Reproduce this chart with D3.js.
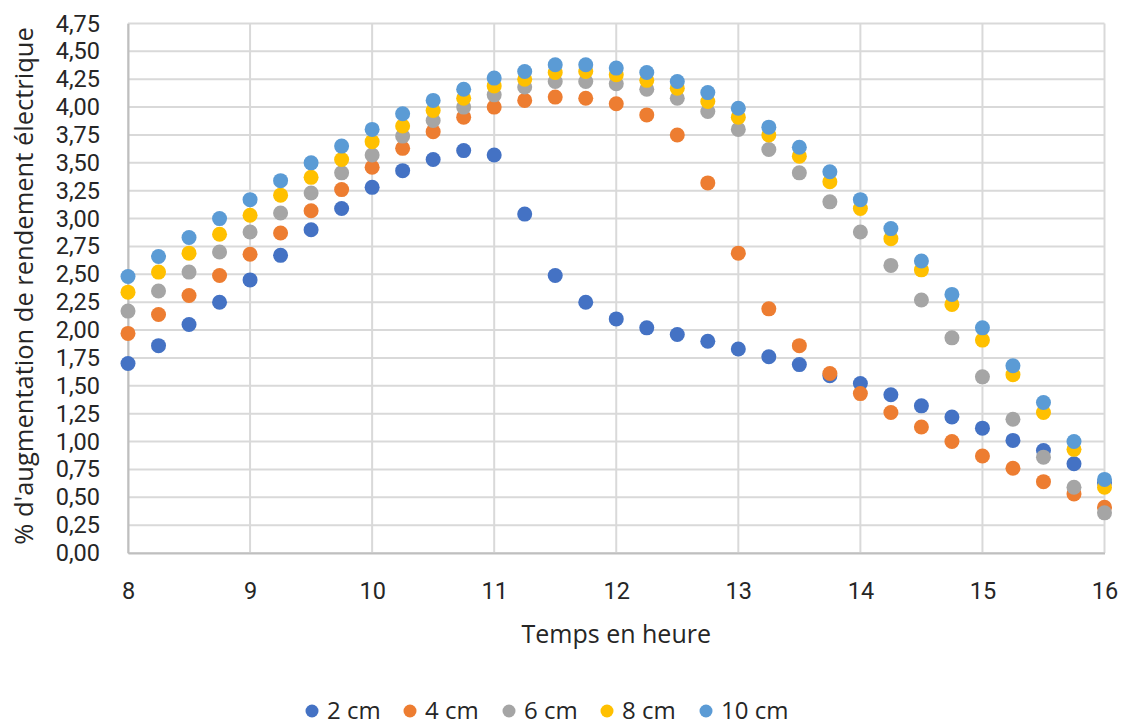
<!DOCTYPE html>
<html>
<head>
<meta charset="utf-8">
<script src="https://cdn.jsdelivr.net/npm/d3@7"></script>
<style>
  body { margin: 0; background: #fff; }
  svg { display: block; }
  text { font-family: "Open Sans", "DejaVu Sans", sans-serif; fill: #262626; }
</style>
</head>
<body>
<svg id="chart" width="1127" height="725"></svg>
<script>
const hours = [8, 8.25, 8.5, 8.75, 9, 9.25, 9.5, 9.75, 10, 10.25, 10.5, 10.75, 11, 11.25, 11.5, 11.75,
  12, 12.25, 12.5, 12.75, 13, 13.25, 13.5, 13.75, 14, 14.25, 14.5, 14.75, 15, 15.25, 15.5, 15.75, 16];

const s2cm = [1.70,1.86,2.05,2.25,2.45,2.67,2.90,3.09,3.28,3.43,3.53,3.61,3.57,3.04,2.49,2.25,
  2.10,2.02,1.96,1.90,1.83,1.76,1.69,1.59,1.52,1.42,1.32,1.22,1.12,1.01,0.92,0.80,0.63];
const s4cm = [1.97,2.14,2.31,2.49,2.68,2.87,3.07,3.26,3.46,3.63,3.78,3.91,4.00,4.06,4.09,4.08,
  4.03,3.93,3.75,3.32,2.69,2.19,1.86,1.61,1.43,1.26,1.13,1.00,0.87,0.76,0.64,0.53,0.41];
const s6cm = [2.17,2.35,2.52,2.70,2.88,3.05,3.23,3.41,3.57,3.74,3.88,4.00,4.11,4.18,4.23,4.23,
  4.21,4.16,4.08,3.96,3.80,3.62,3.41,3.15,2.88,2.58,2.27,1.93,1.58,1.20,0.86,0.59,0.36];
const s8cm = [2.34,2.52,2.69,2.86,3.03,3.21,3.37,3.53,3.69,3.83,3.97,4.08,4.19,4.25,4.31,4.32,
  4.29,4.24,4.17,4.05,3.91,3.75,3.56,3.33,3.09,2.82,2.54,2.23,1.91,1.60,1.26,0.93,0.59];
const s10cm = [2.48,2.66,2.83,3.00,3.17,3.34,3.50,3.65,3.80,3.94,4.06,4.16,4.26,4.32,4.38,4.38,
  4.35,4.31,4.23,4.13,3.99,3.82,3.64,3.42,3.17,2.91,2.62,2.32,2.02,1.68,1.35,1.00,0.66];

const seriesNames = ["2 cm", "4 cm", "6 cm", "8 cm", "10 cm"];
const seriesValues = [s2cm, s4cm, s6cm, s8cm, s10cm];
const seriesColors = ["#4472C4", "#ED7D31", "#A5A5A5", "#FFC000", "#5B9BD5"];

const xTicks = [8, 9, 10, 11, 12, 13, 14, 15, 16];
const yTicks = [0, 0.25, 0.5, 0.75, 1, 1.25, 1.5, 1.75, 2, 2.25, 2.5, 2.75, 3, 3.25, 3.5, 3.75, 4, 4.25, 4.5, 4.75];

const xTitle = "Temps en heure";
const yTitle = "% d'augmentation de rendement électrique";

const svg = d3.select("#chart");
const W = 1127, H = 725;
const margin = { left: 128, top: 23.5, right: 22.5, bottom: 172 };
const x = d3.scaleLinear().domain([8, 16]).range([margin.left, W - margin.right]);
const y = d3.scaleLinear().domain([0, 4.75]).range([H - margin.bottom, margin.top]);

const fmt = v => d3.format(".2f")(v).replace(".", ",");
const tickFont = "Roboto, 'Liberation Sans', sans-serif";

// grid
const grid = svg.append("g");
grid.selectAll("line.h").data(yTicks).join("line")
  .attr("x1", x(8)).attr("x2", x(16))
  .attr("y1", d => y(d)).attr("y2", d => y(d))
  .attr("stroke", "#D9D9D9").attr("stroke-width", 2);
grid.selectAll("line.v").data(xTicks).join("line")
  .attr("y1", y(0)).attr("y2", y(4.75))
  .attr("x1", d => x(d)).attr("x2", d => x(d))
  .attr("stroke", "#D9D9D9").attr("stroke-width", 2);

// axes
const yAxis = d3.axisLeft(y).tickValues(yTicks).tickFormat(fmt).tickSize(0).tickPadding(28);
const gy = svg.append("g").attr("transform", `translate(${x(8)},0)`).call(yAxis);
gy.select(".domain").attr("stroke", "#BFBFBF").attr("stroke-width", 2);
gy.selectAll("text").style("font-size", "23.5px").style("font-family", tickFont).attr("fill", "#262626");

const xAxis = d3.axisBottom(x).tickValues(xTicks).tickFormat(d3.format("d")).tickSize(0).tickPadding(29);
const gx = svg.append("g").attr("transform", `translate(0,${y(0)})`).call(xAxis);
gx.select(".domain").attr("stroke", "#BFBFBF").attr("stroke-width", 2);
gx.selectAll("text").style("font-size", "23.5px").style("font-family", tickFont).attr("fill", "#262626");

// points
seriesValues.forEach((vals, i) => {
  svg.append("g").selectAll("circle").data(vals).join("circle")
    .attr("cx", (d, j) => x(hours[j]))
    .attr("cy", d => y(d))
    .attr("r", 7.5)
    .attr("fill", seriesColors[i]);
});

// titles
svg.append("text").attr("x", x(12)).attr("y", 643).attr("text-anchor", "middle")
  .style("font-size", "25px").text(xTitle);
svg.append("text").attr("transform", `translate(33,286) rotate(-90)`)
  .attr("text-anchor", "middle").style("font-size", "25.5px").text(yTitle);

// legend
const legendX = [312, 410, 509, 607, 706];
const lg = svg.append("g");
seriesNames.forEach((n, i) => {
  lg.append("circle").attr("cx", legendX[i]).attr("cy", 711).attr("r", 6.5).attr("fill", seriesColors[i]);
  lg.append("text").attr("x", legendX[i] + 15).attr("y", 711).attr("dy", "0.35em")
    .style("font-size", "24px").text(n);
});
</script>
</body>
</html>
